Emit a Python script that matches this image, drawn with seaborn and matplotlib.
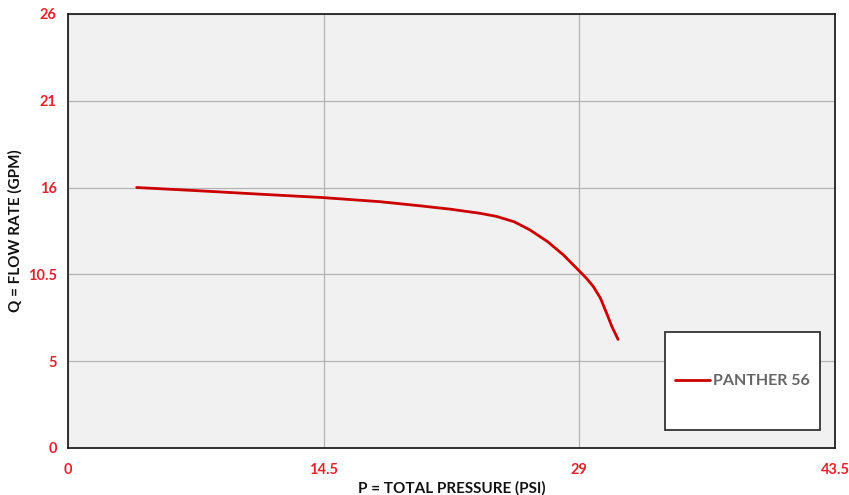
import numpy as np
import pandas as pd
import matplotlib
matplotlib.use('Agg')
import matplotlib.pyplot as plt
import matplotlib.patches as mpatches
from matplotlib.ticker import FixedLocator, AutoMinorLocator
import seaborn as sns

sns.set_style('white')
plt.rcParams['font.family'] = ['Lato', 'DejaVu Sans']

# pump curve (x in psi, y on the linear GPM axis)
pressure = [3.9, 7.5, 10.9, 14.4, 17.7, 20.0, 21.7, 23.4, 24.3, 25.3, 26.2, 27.2,
            28.1, 29.0, 29.4, 29.8, 30.2, 30.55, 30.85, 31.2]
flow = [15.6, 15.4, 15.2, 15.0, 14.75, 14.5, 14.3, 14.05, 13.87, 13.55, 13.06, 12.36,
        11.56, 10.6, 10.17, 9.66, 8.97, 8.07, 7.27, 6.5]
series_name = 'PANTHER 56'

x_ticks = [0, 14.5, 29, 43.5]
x_ticklabels = ['0', '14.5', '29', '43.5']
y_ticks = list(np.linspace(0, 26, 6))
y_ticklabels = ['0', '5', '10.5', '16', '21', '26']

df = pd.DataFrame({'pressure': pressure, 'flow': flow, 'series': series_name})

red = '#e0242e'
fig = plt.figure(figsize=(8.49, 4.95), dpi=100)
ax = fig.add_axes([0.080, 0.095, 0.9035, 0.877])
ax.set_facecolor('#f1f1f1')

sns.lineplot(data=df, x='pressure', y='flow', hue='series', palette=['#cc0000'],
             sort=False, linewidth=2.0, ax=ax, legend=False)
for ln in ax.lines:
    ln.set_solid_joinstyle('round')

ax.set_xlim(0, 43.5)
ax.set_ylim(0, 26)
ax.xaxis.set_major_locator(FixedLocator(x_ticks))
ax.yaxis.set_major_locator(FixedLocator(y_ticks))
ax.set_xticklabels(x_ticklabels)
ax.set_yticklabels(y_ticklabels)
ax.xaxis.set_minor_locator(AutoMinorLocator(2))
ax.yaxis.set_minor_locator(AutoMinorLocator(2))
ax.grid(True, which='major', color='#b4b4b4', linewidth=0.9)

ax.tick_params(axis='both', which='major', direction='inout', length=8, width=1.2,
               labelcolor=red, labelsize=10.5)
ax.tick_params(axis='x', which='major', pad=7)
ax.tick_params(axis='y', which='major', pad=4)
ax.tick_params(axis='both', which='minor', direction='in', length=4, width=1)
for lab in ax.get_xticklabels() + ax.get_yticklabels():
    lab.set_fontweight('bold')

for s in ax.spines.values():
    s.set_visible(True)
    s.set_color('#222222')
    s.set_linewidth(1.3)

ax.set_xlabel('P = TOTAL PRESSURE (PSI)', fontsize=11, fontweight='bold', color='#111111', labelpad=3)
ax.set_ylabel('Q = FLOW RATE (GPM)', fontsize=11, fontweight='bold', color='#111111', labelpad=4)

# legend box
box = mpatches.Rectangle((0.778, 0.0415), 0.202, 0.2255, transform=ax.transAxes,
                         facecolor='white', edgecolor='#333333', linewidth=1.3, zorder=4)
ax.add_patch(box)
handle = plt.Line2D([], [], color='#cc0000', linewidth=2.0)
leg = ax.legend([handle], [series_name], loc='center', bbox_to_anchor=(0.879, 0.154),
                frameon=False, handlelength=2.2, handletextpad=0.2, fontsize=11.5)
leg.set_zorder(5)
for t in leg.get_texts():
    t.set_color('#666666')
    t.set_fontweight('bold')

plt.savefig('out.png', dpi=100)
